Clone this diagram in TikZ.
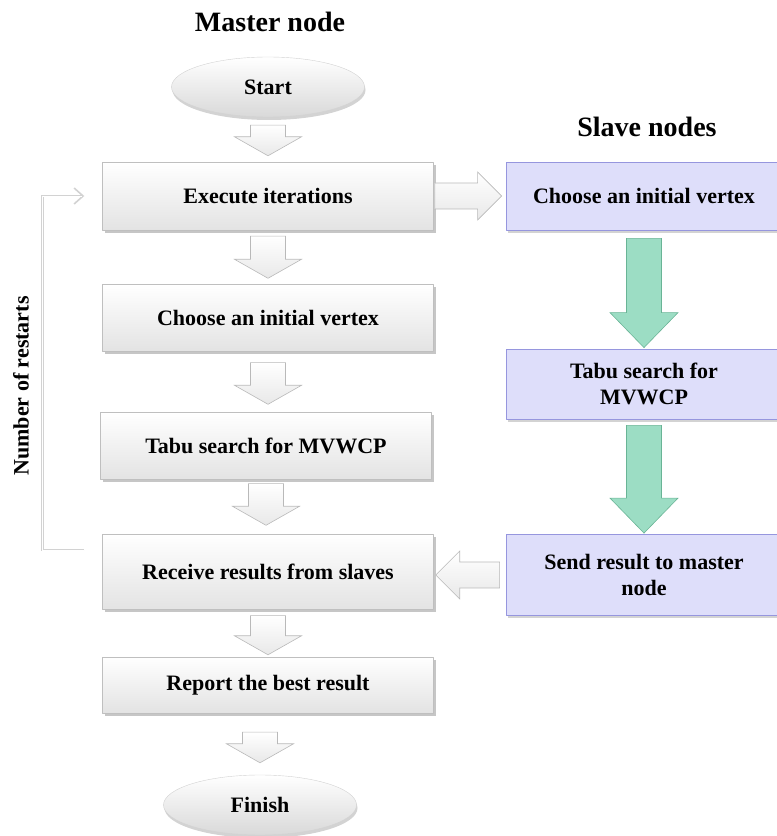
\documentclass[tikz,border=0pt]{standalone}
\usepackage{fontspec}
\setmainfont{Liberation Serif}
\usepackage{tikz}
\usetikzlibrary{calc,shadows,shapes.geometric,arrows.meta}

\definecolor{lavender}{RGB}{222,222,250}
\definecolor{lavedge}{RGB}{150,150,222}
\definecolor{mint}{RGB}{156,221,196}
\definecolor{mintedge}{RGB}{105,180,150}

% block arrow: style, half shaft, half head, head length, tail, tip
\newcommand{\fatarrow}[6]{%
  \path #5 coordinate (fa-p) #6 coordinate (fa-q);
  \coordinate (fa-h) at ($(fa-q)!#4!(fa-p)$);
  \draw[#1] ($(fa-p)!#2!90:(fa-q)$) -- ($(fa-h)!#2!-90:(fa-p)$) -- ($(fa-h)!#3!-90:(fa-p)$)
    -- (fa-q) -- ($(fa-h)!#3!90:(fa-p)$) -- ($(fa-h)!#2!90:(fa-p)$) -- ($(fa-p)!#2!-90:(fa-q)$) -- cycle;
}
\newcommand{\grayarrow}[2]{\fatarrow{grayblock}{17.5pt}{33.5pt}{19pt}{#1}{#2}}
\newcommand{\sidearrow}[2]{\fatarrow{grayblock}{13pt}{24pt}{24pt}{#1}{#2}}
\newcommand{\greenarrow}[2]{\fatarrow{greenblock}{17.5pt}{34pt}{35pt}{#1}{#2}}

\begin{document}
\begin{tikzpicture}[x=1pt,y=1pt,line join=round,
    txt/.style={font=\bfseries\fontsize{22}{26}\selectfont, align=center},
    heading/.style={font=\bfseries\fontsize{28}{32}\selectfont},
    master/.style={txt, rectangle, minimum width=331pt, minimum height=68pt,
      top color=white, bottom color=gray!22, draw=gray!50,
      drop shadow={opacity=0.45, shadow xshift=2pt, shadow yshift=-3pt}},
    slave/.style={txt, rectangle, minimum width=276pt, minimum height=68pt,
      fill=lavender, draw=lavedge, line width=0.8pt,
      drop shadow={opacity=0.35, shadow xshift=2pt, shadow yshift=-3pt}},
    term/.style={txt, ellipse, inner sep=0pt, minimum width=193pt, minimum height=60pt,
      top color=white, bottom color=gray!30, draw=gray!35,
      drop shadow={opacity=0.35, shadow xshift=1pt, shadow yshift=-3pt}},
    grayblock/.style={draw=gray!55, line width=0.6pt, line join=miter,
      top color=white, bottom color=gray!18},
    greenblock/.style={draw=mintedge, line width=0.6pt, line join=miter, fill=mint},
    loopline/.style={draw=gray!35, line width=2.4pt, line cap=butt, line join=miter,
      -{Straight Barb[length=9pt,width=16pt,line width=1.6pt]}},
    loopinner/.style={draw=white, line width=0.9pt, line join=miter, shorten >=2pt}]
  \useasboundingbox (0,0) rectangle (777,836);

  \node[heading, anchor=base] (mtitle) at (270,804) {Master node};
  \node[heading, anchor=base] (stitle) at (647,699) {Slave nodes};

  % master column
  \node[term] (start) at (268,749) {Start};
  \node[master] (exec) at (268,640) {Execute iterations};
  \node[master, minimum height=67pt] (choose) at (268,518) {Choose an initial vertex};
  \node[master, minimum height=67pt] (tabu) at (266,390) {Tabu search for MVWCP};
  \node[master, minimum height=75pt] (recv) at (268,264) {Receive results from slaves};
  \node[master, minimum height=56pt] (report) at (268,151) {Report the best result};
  \node[term] (finish) at (260,31) {Finish};

  % slave column
  \node[slave] (schoose) at (644,640) {Choose an initial vertex};
  \node[slave, minimum height=70pt] (stabu) at (644,452) {Tabu search for\\MVWCP};
  \node[slave, minimum height=81pt] (ssend) at (644,261) {Send result to master\\node};

  \grayarrow{($(start.south)+(0,-8)$)}{($(exec.north)+(0,6)$)}
  \grayarrow{($(exec.south)+(0,-6)$)}{($(choose.north)+(0,6)$)}
  \grayarrow{($(choose.south)+(0,-11)$)}{($(choose.south |- tabu.north)+(0,8)$)}
  \grayarrow{($(tabu.south)+(0,-4)$)}{($(tabu.south |- recv.north)+(0,9)$)}
  \grayarrow{($(recv.south)+(0,-6)$)}{($(report.north)+(0,2)$)}
  \grayarrow{($(finish |- report.south)+(0,-19)$)}{($(finish.north)+(0,12)$)}

  \sidearrow{($(exec.east)+(1,0)$)}{($(schoose.west)+(-4,0)$)}
  \sidearrow{($(ssend.west)+(-6,0)$)}{($(recv.east |- ssend.west)+(2,0)$)}

  \greenarrow{($(schoose.south)+(0,-8)$)}{($(stabu.north)+(0,1)$)}
  \greenarrow{($(stabu.south)+(0,-6)$)}{($(ssend.north)+(0,1)$)}

  % restart loop
  \coordinate (loopend) at ($(recv.west)+(-18,22)$);
  \coordinate (looptip) at ($(exec.west)+(-18,0)$);
  \draw[loopline] (loopend) -| ($(exec.west)+(-60,0)$) -- (looptip);
  \draw[loopinner] (loopend) -| ($(exec.west)+(-60,0)$) -- (looptip);
  \node[txt, rotate=90] (restarts) at (21,450) {Number of restarts};
\end{tikzpicture}
\end{document}
